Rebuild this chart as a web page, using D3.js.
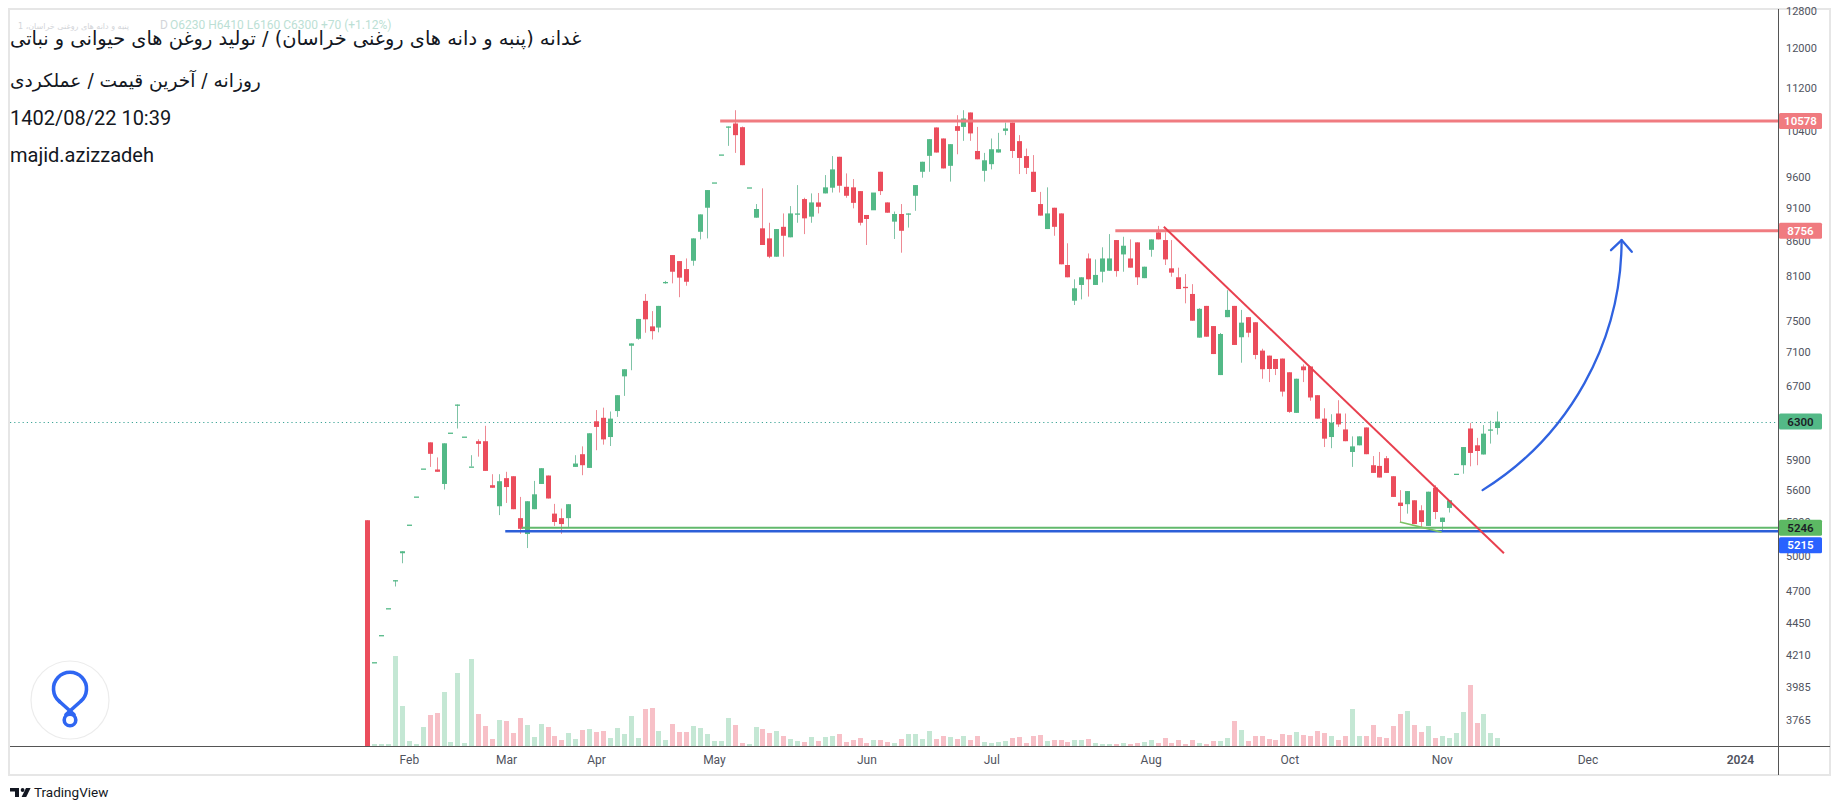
<!DOCTYPE html>
<html><head><meta charset="utf-8">
<script src="https://cdn.jsdelivr.net/npm/d3@7"></script>
<style>html,body{margin:0;padding:0;background:#fff;}svg{display:block;}</style>
</head><body>
<svg id="chart" width="1840" height="810"></svg>
<script>
// ---------- DATA ----------
const opens  = [5314,4160,4359,4566,4792,5020,5274,5536,5810,6078,5800,5657,6181,6488,6139,5830,6090,6090,5645,5444,5714,5733,5333,5189,5416,5657,5740,5375,5333,5333,5826,5955,5816,6303,6341,6134,6415,6811,7180,7267,7758,7424,7409,8000,8396,8309,8195,8314,8740,9110,9517,9987,10481,10535,10468,9436,8955,8792,8641,8372,8815,8657,9021,9247,8971,9194,9338,9430,9947,9445,9436,9375,8997,9070,9693,9194,8894,9012,9021,9300,9693,9963,10463,10266,9793,10487,10473,10737,10047,9709,9821,10020,10402,10552,10219,9959,9693,9168,8781,9110,9021,8253,7760,7974,8347,7974,8158,8172,8616,8405,8347,8582,8068,8472,8731,8616,8206,8080,7948,7851,7281,7691,7428,6826,7543,7691,7286,7543,7477,7120,7059,7018,7023,6859,6395,6928,6928,6593,6332,6134,6388,6215,5978,6047,6236,5843,5836,5914,5733,5478,5463,5500,5406,5262,5621,5298,5428,5758,5843,6225,6047,5952,6215,6230];
const highs  = [5314,4160,4359,4566,4792,5037,5274,5536,5810,6078,5922,6068,6181,6488,6139,5945,6110,6254,5753,5753,5777,5733,5532,5491,5687,5813,5740,5466,5422,5463,5945,6036,6174,6426,6453,6410,6593,6895,7209,7520,7851,7622,7691,8030,8396,8309,8347,8641,9006,9392,9517,9987,10481,10779,10480,9436,9168,9420,8877,8781,9021,9136,9473,9268,9338,9345,9638,9959,9947,9666,9572,9375,8997,9070,9693,9194,9050,9168,9021,9473,9862,10254,10463,10266,10166,10687,10779,10737,10473,10014,10266,10366,10552,10552,10325,10089,9976,9362,9436,9110,9021,8568,8052,8080,8419,8333,8509,8705,8616,8665,8626,8582,8229,8626,8829,8731,8616,8215,8125,7985,7660,7691,7428,7340,7902,7691,7638,7543,7477,7143,7059,7018,7023,6859,6783,6952,6928,6593,6446,6380,6536,6388,6141,6141,6236,5936,5978,5936,5733,5597,5588,5500,5453,5582,5645,5338,5500,5758,6029,6285,6125,6262,6308,6410];
const lows   = [3300,4160,4359,4566,4740,4934,5274,5536,5810,5826,5777,5603,6181,6225,6139,5830,5930,5786,5620,5361,5475,5416,5191,5065,5416,5657,5517,5262,5191,5253,5826,5743,5816,5996,6054,6040,6351,6585,6883,7255,7343,7258,7348,7990,7996,7807,7963,8243,8626,8641,9517,9987,10136,10014,9804,9436,8955,8543,8351,8372,8372,8657,8877,8705,8877,9021,9338,9352,9352,9268,9100,8836,8543,9070,9312,9032,8632,8430,8803,9062,9594,9693,10020,9749,9530,9990,10224,10224,9904,9530,9733,10020,10325,9927,9655,9655,9362,8987,8781,8680,8263,8080,7703,7778,7815,7974,8009,8172,8088,8158,8215,7974,8068,8372,8626,8253,8088,7918,7725,7497,7281,7293,7078,6826,7543,7190,6973,7286,7015,6783,6744,6826,6578,6395,6395,6744,6530,6332,6029,6017,6242,6090,5826,6047,5955,5766,5720,5766,5532,5298,5375,5279,5253,5262,5324,5206,5385,5758,5758,5832,5843,5952,6065,6160];
const closes = [3300,4160,4359,4566,4792,5037,5274,5536,5810,5959,5777,6068,6181,6488,6139,5830,6062,5786,5620,5684,5627,5416,5236,5491,5557,5813,5517,5298,5279,5463,5860,5843,6174,6242,6109,6332,6593,6895,7209,7520,7515,7363,7691,8015,8158,8075,8018,8641,9006,9392,9517,9987,10481,10325,9804,9436,9090,8543,8372,8781,8680,9021,9021,8945,9194,9125,9436,9733,9462,9300,9187,8877,8935,9352,9375,9032,9012,8755,9021,9473,9862,10254,10020,9749,10166,10402,10626,10356,9904,9887,10077,10077,10445,10047,9927,9758,9362,8987,9021,8815,8263,8080,7928,8080,8052,8113,8347,8347,8167,8532,8215,8080,8229,8626,8626,8333,8145,7918,7930,7497,7652,7293,7078,7327,7638,7190,7472,7343,7067,6895,6898,6898,6634,6406,6783,6883,6567,6332,6117,6289,6269,6090,6036,6141,5955,5766,5720,5766,5532,5446,5588,5279,5298,5582,5390,5338,5500,5758,6029,5968,5988,6170,6215,6300];
const volumes = [5,2,2,2,90,40,5,2,19,31,33,54,4,73,3,87,32,20,7,26,25,13,28,21,9,22,19,10,6,13,7,16,17,14,15,8,18,12,30,8,37,38,15,6,22,14,14,20,18,12,5,5,28,21,3,2,19,17,13,15,10,7,5,4,9,5,9,10,12,4,6,8,3,6,6,4,3,7,12,12,7,15,7,10,9,7,10,6,10,4,3,4,5,8,9,3,10,11,5,6,6,4,6,6,7,3,2,2,2,3,2,3,4,6,3,8,3,6,2,6,3,2,5,5,8,25,16,5,10,10,7,6,12,11,14,11,10,15,13,10,6,10,37,10,10,21,9,8,20,32,35,21,14,20,8,10,8,13,34,61,23,32,13,8];

const monthTickIndex  = [6,20,33,50,72,90,113,133,155,176,198];
const monthTickLabels = ["Feb","Mar","Apr","May","Jun","Jul","Aug","Oct","Nov","Dec","2024"];
const priceTicks = [12800,12000,11200,10400,9600,9100,8600,8100,7500,7100,6700,6300,5900,5600,5300,5000,4700,4450,4210,3985,3765];

const lastPrice = 6300;
const resistancePrices = [10578, 8756];
const resistanceStart  = [50.9, 107.9];
const supportPrices = [5246, 5215];
const supportStart  = [22.3, 19.9];
const trendIdx   = [114.9, 163.96];
const trendPrice = [8815, 5019];
const wedgeIdx   = [148.95, 154.97];
const wedgePrice = [5298, 5206];
const arrowIdx   = [160.88, 180.93];   // arc start, arc end (tip)
const arrowPrice = [5597, 8616];
const headIdx    = [179.4, 180.93, 182.4];
const headPrice  = [8467, 8616, 8443];

const titleLines = [
  "غدانه (پنبه و دانه های روغنی خراسان) / تولید روغن های حیوانی و نباتی",
  "روزانه / آخرین قیمت / عملکردی",
  "1402/08/22 10:39",
  "majid.azizzadeh"
];
const legendName = "پنبه و دانه های روغنی خراسان، 1";
const legendValues = "O6230  H6410  L6160  C6300  +70 (+1.12%)";

// ---------- LAYOUT ----------
const paneL = 10, paneR = 1778, paneT = 10, paneB = 746, frameR = 1830, frameB = 775;
const UP = "#53b987", DOWN = "#eb4d5c", UPW = "#7fc3a6", DOWNW = "#ee8a94";
const VUP = "#c4e7d4", VDOWN = "#f7c0c7";

const svg = d3.select("#chart");
const x = d3.scaleLinear().domain([0, 163]).range([367.3, 1497.3]);
const y = d3.scaleLog().domain([3765, 12000]).range([720, 48]);
const vy = d3.scaleLinear().domain([0, 100]).range([paneB, paneB - 100]);

svg.append("rect").attr("x",0).attr("y",0).attr("width",1840).attr("height",810).attr("fill","#fff");
svg.append("rect").attr("x",9).attr("y",9).attr("width",frameR-9).attr("height",frameB-9)
  .attr("fill","none").attr("stroke","#e6e6e6").attr("stroke-width",2);

const defs = svg.append("defs");
defs.append("clipPath").attr("id","pane").append("rect")
  .attr("x",paneL).attr("y",paneT).attr("width",paneR-paneL).attr("height",paneB-paneT);

function fitWidth(sel, target, lo, hi){
  const w = sel.node().getComputedTextLength();
  if (w>0){ const fs = +sel.attr("font-size"); sel.attr("font-size", Math.max(lo, Math.min(hi, fs*target/w))); }
}

// faint legend line (behind title)
const hdr = svg.append("g").attr("font-size",12);
const ln = hdr.append("text").attr("x",18).attr("y",29).attr("direction","rtl").attr("text-anchor","end")
  .attr("font-family","'DejaVu Sans', sans-serif").attr("fill","#d3d5d9").text(legendName);
fitWidth(ln, 138, 8, 13);
hdr.append("text").attr("x",160).attr("y",29).attr("font-family","Roboto, sans-serif").attr("fill","#d3d5d9").text("D");
hdr.append("text").attr("x",170).attr("y",29).attr("font-family","Roboto, sans-serif").attr("fill","#bcdfd5").text(legendValues);

const pane = svg.append("g").attr("clip-path","url(#pane)");
const data = opens.map((o,i)=>({i, o, h:highs[i], l:lows[i], c:closes[i], v:volumes[i]}));

// volume
pane.append("g").selectAll("rect").data(data).join("rect")
  .attr("x", d=>Math.round(x(d.i))-2).attr("width",5)
  .attr("y", d=>vy(d.v)).attr("height", d=>paneB - vy(d.v))
  .attr("fill", d=> d.c>=d.o ? VUP : VDOWN);

// dotted last price line
pane.append("line").attr("x1",paneL).attr("x2",paneR)
  .attr("y1",Math.round(y(lastPrice))+0.5).attr("y2",Math.round(y(lastPrice))+0.5)
  .attr("stroke","#3ea597").attr("stroke-width",1).attr("stroke-dasharray","1.2,3");

// candles
const cg = pane.append("g");
cg.selectAll("line").data(data).join("line")
  .attr("x1", d=>Math.round(x(d.i))+0.5).attr("x2", d=>Math.round(x(d.i))+0.5)
  .attr("y1", d=>y(d.h)).attr("y2", d=>Math.max(y(d.l), y(d.h)+0.01))
  .attr("stroke", d=> d.c>=d.o ? UPW : DOWNW).attr("stroke-width",1);
cg.selectAll("rect").data(data).join("rect")
  .attr("x", d=>Math.round(x(d.i))-2).attr("width",5)
  .attr("y", d=>Math.min(y(d.o), y(d.c)))
  .attr("height", d=>Math.max(1.3, Math.abs(y(d.o)-y(d.c))))
  .attr("fill", d=> d.c>=d.o ? UP : DOWN);

// drawings
const dg = pane.append("g");
resistancePrices.forEach((p,k)=>{
  dg.append("line").attr("x1",x(resistanceStart[k])).attr("x2",paneR)
    .attr("y1",y(p)).attr("y2",y(p)).attr("stroke","#f07b80").attr("stroke-width",3);
});
dg.append("line").attr("x1",x(supportStart[0])).attr("x2",paneR)
  .attr("y1",y(supportPrices[0])).attr("y2",y(supportPrices[0])).attr("stroke","#62b96c").attr("stroke-width",2);
dg.append("line").attr("x1",x(supportStart[1])).attr("x2",paneR)
  .attr("y1",y(supportPrices[1])).attr("y2",y(supportPrices[1])).attr("stroke","#2c5fd8").attr("stroke-width",2.5);
dg.append("line").attr("x1",x(trendIdx[0])).attr("y1",y(trendPrice[0]))
  .attr("x2",x(trendIdx[1])).attr("y2",y(trendPrice[1])).attr("stroke","#e8404f").attr("stroke-width",2);
dg.append("line").attr("x1",x(wedgeIdx[0])).attr("y1",y(wedgePrice[0]))
  .attr("x2",x(wedgeIdx[1])).attr("y2",y(wedgePrice[1])).attr("stroke","#7cc263").attr("stroke-width",1.6);
// arc arrow: circular arc whose tangent at the tip is vertical
{
  const ax = x(arrowIdx[0]), ay = y(arrowPrice[0]), hx = x(arrowIdx[1]), hy = y(arrowPrice[1]);
  const cx = (ax*ax - hx*hx + (ay-hy)*(ay-hy)) / (2*(ax-hx));
  const r = hx - cx;
  const p = d3.path(); p.moveTo(ax, ay);
  const a0 = Math.atan2(ay-hy, ax-cx), a1 = 0;
  p.arc(cx, hy, r, a0, a1, true);
  dg.append("path").attr("d", p.toString())
    .attr("fill","none").attr("stroke","#2f62e0").attr("stroke-width",2.3).attr("stroke-linecap","round");
}
dg.append("path").attr("d", d3.line().x(d=>x(d[0])).y(d=>y(d[1]))(headIdx.map((v,k)=>[v, headPrice[k]])))
  .attr("fill","none").attr("stroke","#2f62e0").attr("stroke-width",2.3).attr("stroke-linecap","round").attr("stroke-linejoin","round");

// axes lines
svg.append("line").attr("x1",paneL).attr("x2",frameR).attr("y1",paneB+0.5).attr("y2",paneB+0.5).attr("stroke","#555").attr("stroke-width",1);
svg.append("line").attr("x1",paneR+0.5).attr("x2",paneR+0.5).attr("y1",9).attr("y2",frameB).attr("stroke","#555").attr("stroke-width",1);

// price axis
const ya = svg.append("g").attr("transform",`translate(${paneR},0)`)
  .call(d3.axisRight(y).tickValues(priceTicks).tickFormat(d3.format("d")).tickSize(0).tickPadding(8));
ya.select(".domain").remove();
ya.selectAll("text").attr("font-family","Roboto, sans-serif").attr("font-size",11).attr("fill","#50535e");

// time axis
const xa = svg.append("g").attr("transform",`translate(0,${paneB})`)
  .call(d3.axisBottom(x).tickValues(monthTickIndex).tickFormat((d,k)=>monthTickLabels[k]).tickSize(0).tickPadding(9));
xa.select(".domain").remove();
xa.selectAll("text").attr("font-family","Roboto, sans-serif").attr("font-size",12).attr("fill","#50535e")
  .attr("font-weight",(d,k)=> monthTickLabels[k]==="2024" ? 600 : 400);

// price labels on axis
const labels = [
  {v:resistancePrices[0], bg:"#f07b80", fg:"#ffffff"},
  {v:resistancePrices[1], bg:"#f07b80", fg:"#ffffff"},
  {v:lastPrice, bg:"#53b987", fg:"#1b1e26"},
  {v:supportPrices[0], bg:"#5cb863", fg:"#1b1e26"},
  {v:supportPrices[1], bg:"#2962ff", fg:"#ffffff"}
].map(d=>({...d, cy:y(d.v)})).sort((a,b)=>a.cy-b.cy);
const LH = 16;
for (let k=1;k<labels.length;k++){
  if (labels[k].cy - labels[k-1].cy < LH+1.5) labels[k].cy = labels[k-1].cy + LH + 1.5;
}
const lg = svg.append("g");
labels.forEach(d=>{
  lg.append("rect").attr("x",paneR+1).attr("y",d.cy-LH/2).attr("width",43).attr("height",LH)
    .attr("rx",1.5).attr("fill",d.bg);
  lg.append("text").attr("x",paneR+22.5).attr("y",d.cy).attr("dy","0.36em").attr("text-anchor","middle")
    .attr("font-family","Roboto, sans-serif").attr("font-size",11.5).attr("font-weight",600)
    .attr("fill",d.fg).text(d3.format("d")(d.v));
});

// title block
const tg = svg.append("g").attr("fill","#131722");
const t1 = tg.append("text").attr("x",10).attr("y",45).attr("direction","rtl").attr("text-anchor","end")
  .attr("font-family","'DejaVu Sans', sans-serif").attr("font-size",19).text(titleLines[0]);
const t2 = tg.append("text").attr("x",10).attr("y",87).attr("direction","rtl").attr("text-anchor","end")
  .attr("font-family","'DejaVu Sans', sans-serif").attr("font-size",19).text(titleLines[1]);
tg.append("text").attr("x",10).attr("y",125).attr("font-family","Roboto, sans-serif").attr("font-size",20).text(titleLines[2]);
tg.append("text").attr("x",10).attr("y",162).attr("font-family","Roboto, sans-serif").attr("font-size",20).text(titleLines[3]);
fitWidth(t1, 572, 14, 24); fitWidth(t2, 251, 14, 24);

// logo
const lgo = svg.append("g");
lgo.append("circle").attr("cx",70).attr("cy",700).attr("r",39).attr("fill","#fff").attr("stroke","#ececec").attr("stroke-width",1.2);
lgo.append("path").attr("d","M59.5 701.5 A16.5 16.5 0 1 1 80.5 701.5 L66 714.5")
  .attr("fill","none").attr("stroke","#2f66f2").attr("stroke-width",3.6).attr("stroke-linecap","round").attr("stroke-linejoin","round");
lgo.append("path").attr("d","M59.5 701.5 L74 714.5")
  .attr("fill","none").attr("stroke","#2f66f2").attr("stroke-width",3.6).attr("stroke-linecap","round");
lgo.append("circle").attr("cx",70).attr("cy",720).attr("r",5.8).attr("fill","none").attr("stroke","#2f66f2").attr("stroke-width",3.6);

// TradingView mark
const tv = svg.append("g").attr("fill","#131722");
tv.append("path").attr("d","M10 788h9v9h-4v-5.5h-5z");
tv.append("circle").attr("cx",22.6).attr("cy",790).attr("r",1.9);
tv.append("path").attr("d","M26 788h4.6l-4.4 9h-4.6z");
tv.append("text").attr("x",34).attr("y",797).attr("font-family","Roboto, sans-serif").attr("font-size",13.5).attr("fill","#131722").text("TradingView");
</script>
</body></html>
